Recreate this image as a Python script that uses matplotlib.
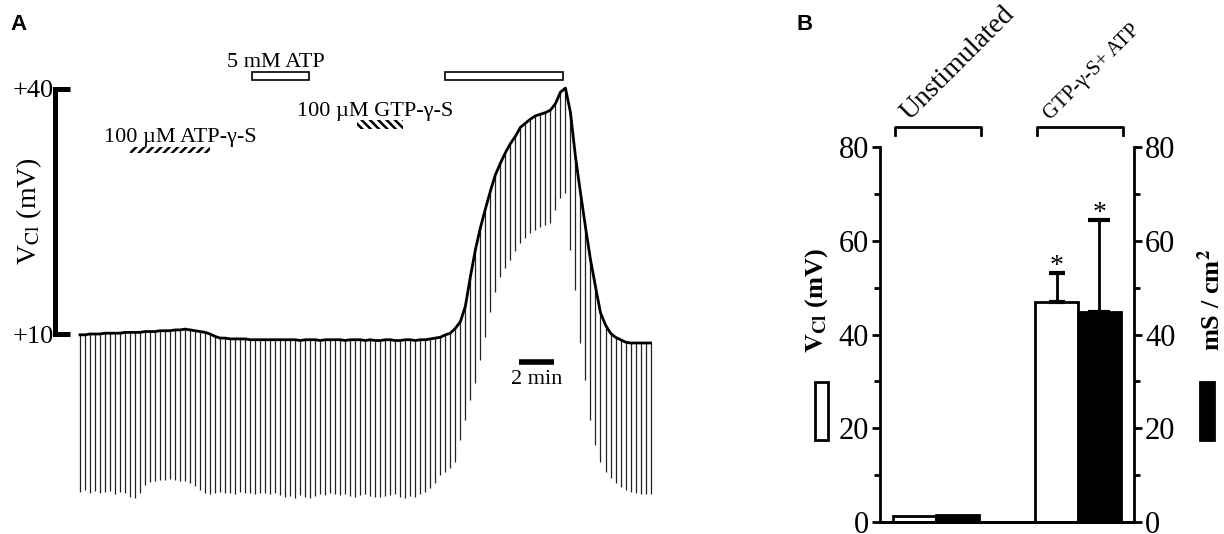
import numpy as np
import matplotlib
matplotlib.use("Agg")
import matplotlib.pyplot as plt
from matplotlib.patches import Rectangle
from matplotlib.ticker import MultipleLocator

plt.rcParams['font.family'] = ['Liberation Serif', 'DejaVu Serif']
plt.rcParams['mathtext.fontset'] = 'stix'
plt.rcParams['hatch.linewidth'] = 1.8

# ---------------- panel A: V_Cl trace (mV), one pulse every ~17 s ----------------
PULSE_EVERY = 0.286  # min between pulses

# trace level at each pulse (mV)
v_top = [9.9, 9.9, 10.0, 10.0, 10.0, 10.1, 10.1, 10.1, 10.1, 10.2,
         10.2, 10.2, 10.2, 10.3, 10.3, 10.3, 10.4, 10.4, 10.4, 10.5,
         10.5, 10.6, 10.5, 10.4, 10.3, 10.2, 10.0, 9.7, 9.5, 9.5,
         9.4, 9.4, 9.4, 9.4, 9.3, 9.3, 9.3, 9.3, 9.3, 9.3,
         9.3, 9.3, 9.3, 9.3, 9.2, 9.3, 9.3, 9.3, 9.2, 9.3,
         9.3, 9.3, 9.3, 9.2, 9.3, 9.3, 9.3, 9.2, 9.3, 9.2,
         9.2, 9.3, 9.3, 9.2, 9.2, 9.3, 9.3, 9.2, 9.3, 9.3,
         9.4, 9.5, 9.6, 9.9, 10.1, 10.7, 11.5, 13.4, 17.0, 20.3,
         23.0, 25.3, 27.5, 29.5, 30.9, 32.2, 33.3, 34.2, 35.3, 35.8,
         36.3, 36.7, 36.9, 37.1, 37.4, 38.2, 39.6, 40.1, 37.1, 31.7,
         27.3, 23.1, 19.1, 15.8, 12.6, 11.1, 10.1, 9.6, 9.3, 9.0,
         8.9, 8.9, 8.9, 8.9, 8.9]

# tip of each pulse (mV)
v_bot = [-9.3, -9.1, -9.4, -9.2, -9.5, -9.3, -9.2, -9.6, -9.3, -9.4,
         -10.0, -10.1, -9.4, -8.5, -8.1, -8.0, -7.9, -7.9, -7.8, -7.9,
         -8.0, -8.0, -8.2, -8.6, -9.1, -9.5, -9.6, -9.4, -9.3, -9.5,
         -9.4, -9.6, -9.3, -9.5, -9.4, -9.6, -9.5, -9.4, -9.6, -9.5,
         -9.7, -10.0, -9.8, -10.1, -9.7, -9.9, -10.1, -9.8, -9.6, -9.7,
         -9.5, -9.6, -9.7, -9.6, -9.8, -9.9, -9.7, -9.6, -9.8, -9.9,
         -10.0, -9.8, -9.7, -9.6, -9.9, -10.1, -9.8, -9.9, -9.6, -9.3,
         -8.9, -8.2, -7.3, -6.9, -6.4, -5.7, -3.0, -0.5, 1.9, 4.0,
         6.8, 9.6, 12.7, 15.1, 17.0, 18.1, 19.1, 20.2, 21.1, 21.8,
         22.4, 22.7, 23.1, 23.3, 23.6, 25.2, 26.6, 27.3, 20.3, 15.4,
         8.9, 4.4, -0.5, -3.6, -5.7, -6.9, -7.6, -8.2, -8.7, -9.1,
         -9.3, -9.5, -9.6, -9.6, -9.6]

# drug applications (min)
treat_labels = ["100 µM ATP-γ-S", "5 mM ATP", "100 µM GTP-γ-S", ""]
treat_start = [2.86, 9.83, 15.83, 20.86]
treat_end = [7.43, 13.09, 18.46, 27.6]

# ---------------- panel B: means +/- SE ----------------
groups = ["Unstimulated", "GTP-γ-S+ ATP"]
vcl_mean = [1.3, 47.0]
vcl_err = [0.0, 6.1]
gt_mean = [1.6, 44.8]
gt_err = [0.0, 19.6]

W, H = 1224, 534
fig = plt.figure(figsize=(W / 100, H / 100), dpi=100)


def px(x0, y0, x1, y1):
    # figure-pixel box -> axes rect
    return [x0 / W, 1 - y1 / H, (x1 - x0) / W, (y1 - y0) / H]


# ---- A ----
ax = fig.add_axes(px(45, 55, 665, 505))
t = np.arange(len(v_top)) * PULSE_EVERY
ax.vlines(t, v_bot, v_top, color='#222222', linewidth=0.9)
ax.plot(t, v_top, color='black', linewidth=2.0, solid_joinstyle='round')
ax.set_xlim(-2.0, 33.43)
ax.set_ylim(-10.93, 44.15)

for s in ['top', 'right', 'bottom']:
    ax.spines[s].set_visible(False)
ax.spines['left'].set_position(('data', -1.4))
ax.spines['left'].set_bounds(10, 40)
ax.spines['left'].set_linewidth(3.6)
ax.set_xticks([])
ax.set_yticks([10, 40])
ax.set_yticklabels(['+10', '+40'])
ax.tick_params(axis='y', direction='in', length=11, width=3.6, labelsize=19, pad=1)
ax.text(-2.9, 25, r'V$_{\rm Cl}$ (mV)', rotation=90, ha='center', va='center',
        fontsize=20)

# application bars
hatches = ['////', None, '\\\\\\\\', None]
bar_y = [32.2, 41.1, 35.1, 41.1]
bar_h = [0.75, 1.0, 1.1, 1.0]
for lab, a, b, hh, y0, h in zip(treat_labels, treat_start, treat_end, hatches, bar_y, bar_h):
    if hh:
        ax.add_patch(Rectangle((a, y0), b - a, h, fill=False, hatch=hh,
                               edgecolor='black', linewidth=0, clip_on=False))
    else:
        ax.add_patch(Rectangle((a, y0), b - a, h, facecolor='white',
                               edgecolor='black', linewidth=1.2, clip_on=False))
ax.text(5.71, 34.1, treat_labels[0], ha='center', va='center', fontsize=16)
ax.text(11.2, 43.2, treat_labels[1], ha='center', va='center', fontsize=16)
ax.text(16.86, 37.2, treat_labels[2], ha='center', va='center', fontsize=16)

# time scale bar
ax.plot([25.1, 27.1], [6.6, 6.6], color='black', linewidth=4, solid_capstyle='butt')
ax.text(26.1, 5.6, '2 min', ha='center', va='top', fontsize=16)

# ---- B ----
axb = fig.add_axes(px(880, 147, 1134, 522))
axr = axb.twinx()
g = np.arange(len(groups))
bw = 0.30
axb.bar(g - bw / 2, vcl_mean, bw, color='white', edgecolor='black', linewidth=2, zorder=2)
axr.bar(g + bw / 2, gt_mean, bw, color='black', edgecolor='black', linewidth=2, zorder=2)
for i in g:
    if vcl_err[i] > 0:
        top = vcl_mean[i] + vcl_err[i]
        axb.errorbar(i - bw / 2, vcl_mean[i], yerr=[[0], [vcl_err[i]]], color='black',
                     linewidth=2, capsize=6, capthick=3)
        axb.text(i - bw / 2, top - 1.2, '*', ha='center', va='bottom', fontsize=20)
    if gt_err[i] > 0:
        top = gt_mean[i] + gt_err[i]
        axr.errorbar(i + bw / 2, gt_mean[i], yerr=[[0], [gt_err[i]]], color='black',
                     linewidth=2, capsize=8, capthick=3)
        axr.text(i + bw / 2, top - 1.2, '*', ha='center', va='bottom', fontsize=20)

for a_ in (axb, axr):
    a_.set_ylim(0, 80)
    a_.set_xlim(-0.394, 1.395)
    a_.yaxis.set_major_locator(MultipleLocator(20))
    a_.yaxis.set_minor_locator(MultipleLocator(10))
    a_.spines['top'].set_visible(False)
    a_.set_xticks([])
    for s in ['left', 'right', 'bottom']:
        a_.spines[s].set_linewidth(2)
    a_.tick_params(axis='y', which='major', direction='out', length=6, width=2,
                   labelsize=22, pad=2)
    a_.tick_params(axis='y', which='minor', direction='out', length=4, width=2)
axb.spines['right'].set_visible(False)
axr.spines['left'].set_visible(False)

# group brackets + rotated labels
for i, lab, fs in zip(g, groups, [20, 15]):
    axb.plot([i - 0.29, i - 0.29, i + 0.32, i + 0.32], [82.5, 84.2, 84.2, 82.5],
             color='black', linewidth=2, clip_on=False)
    axb.text(i - 0.19, 85.6, lab, rotation=45, rotation_mode='anchor',
             ha='left', va='baseline', fontsize=fs)

fig.text(817 / W, 1 - 300 / H, r'$\mathbf{V_{Cl}}$ (mV)', rotation=90, ha='center',
         va='center', fontsize=19, fontweight='bold')
fig.text(1211 / W, 1 - 300 / H, r'mS / cm$^{\mathbf{2}}$', rotation=90, ha='center',
         va='center', fontsize=19, fontweight='bold')
fig.patches.append(Rectangle((815 / W, 1 - 440 / H), 13 / W, 58 / H, transform=fig.transFigure,
                             facecolor='white', edgecolor='black', linewidth=2))
fig.patches.append(Rectangle((1200 / W, 1 - 440 / H), 14 / W, 58 / H, transform=fig.transFigure,
                             facecolor='black', edgecolor='black', linewidth=2))

fig.text(10 / W, 1 - 30 / H, 'A', fontsize=16, fontweight='bold', family='Liberation Sans')
fig.text(796 / W, 1 - 30 / H, 'B', fontsize=16, fontweight='bold', family='Liberation Sans')

fig.savefig('out.png', dpi=100)
